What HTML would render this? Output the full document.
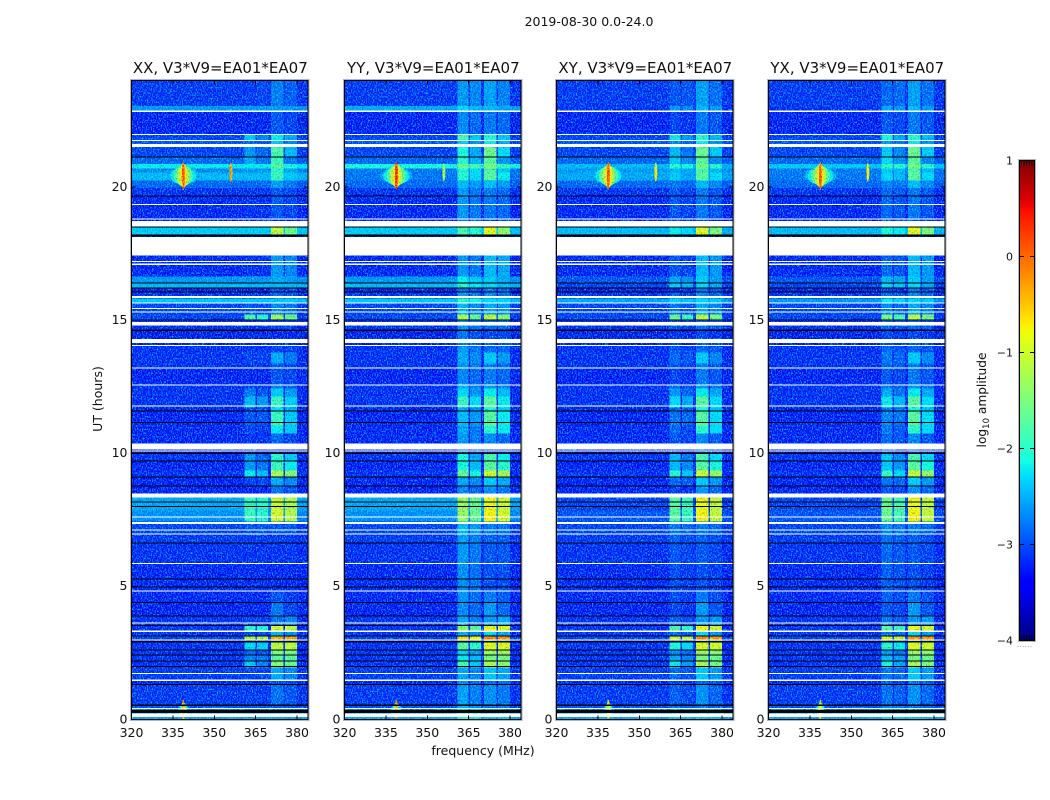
<!DOCTYPE html>
<html><head><meta charset="utf-8"><title>2019-08-30 spectrogram</title>
<style>
html,body{margin:0;padding:0;background:#fff}
svg{display:block}
text{font-family:"DejaVu Sans","Liberation Sans",sans-serif;fill:#111}
</style></head>
<body>
<svg id="chart" xmlns="http://www.w3.org/2000/svg" width="1050" height="800" viewBox="0 0 1050 800">
<defs>
<filter id="noiseA" filterUnits="userSpaceOnUse" x="0" y="0" width="1050" height="800" color-interpolation-filters="sRGB">
<feTurbulence type="fractalNoise" baseFrequency="0.8 0.55" numOctaves="2" seed="3"/>
<feColorMatrix type="matrix" values="0 0 0 0 0  2.2 0 0 0 -0.95  0.3 0 0 0 -0.1  0 0 0 0 1"/>
</filter>
<filter id="noiseB" filterUnits="userSpaceOnUse" x="0" y="0" width="1050" height="800" color-interpolation-filters="sRGB">
<feTurbulence type="fractalNoise" baseFrequency="0.8 0.55" numOctaves="2" seed="11"/>
<feColorMatrix type="matrix" values="0 0 0 0 0  0 0 0 0 0  0 0 0 0 0.35  5 0 0 0 -2.7"/>
</filter>
<linearGradient id="jetGrad" x1="0" y1="1" x2="0" y2="0"></linearGradient>
</defs>
<text x="589" y="26" text-anchor="middle" font-size="12.5">2019-08-30 0.0-24.0</text>
<text x="483" y="755" text-anchor="middle" font-size="12.5">frequency (MHz)</text>
<text transform="translate(102,399) rotate(-90)" text-anchor="middle" font-size="12.5">UT (hours)</text>
<text transform="translate(986,400) rotate(-90)" text-anchor="middle" font-size="12.2">log<tspan font-size="8.5" dy="3">10</tspan><tspan dy="-3"> amplitude</tspan></text>
<g id="panels"></g>
<g id="cbar"></g>
</svg>
<script>
// Categories
const panelNames = ['XX','YY','XY','YX'];
const panelTitles = ['XX, V3*V9=EA01*EA07','YY, V3*V9=EA01*EA07','XY, V3*V9=EA01*EA07','YX, V3*V9=EA01*EA07'];
const xTicks = [320,335,350,365,380];
const yTicks = [0,5,10,15,20];
const cbarTicks = [1,0,-1,-2,-3,-4];
// Frequency bands (MHz): bg, band1, bg, band2, bg, band3, bg, band4, bg
const bandStartsMHz = [320,361,365,365.5,369.5,370.5,375,375.6,380];
const bandEndsMHz   = [361,365,365.5,369.5,370.5,375,375.6,380,384];
// Time rows: edges in UT hours (top to bottom)
const utEdges = [24,23.05,22.86,22,21.77,21.51,21.14,20.87,20.69,20.54,20.24,19.97,19.64,18.77,18.47,18.21,17.42,16.63,16.37,16.22,16.07,15.81,15.66,15.21,15.02,14.61,14.31,14.01,13.78,13.37,13.22,12.58,12.43,12.13,11.72,11.57,11.04,10.74,10.37,9.99,9.69,9.35,9.13,8.79,8.34,7.85,7.44,6.95,6.62,5.86,5.3,4.85,4.4,3.91,3.54,3.35,3.13,2.98,2.9,2.6,2.41,2.19,1.96,1.44,1.29,0.54,0.42,0.24,0];
// Background log10 amplitude per row, per panel
const bgXX = [-3.25,-2.7,-3.45,-3.2,-3.1,-3.2,-3,-2.2,-2.8,-2.5,-3,-3.3,-3.35,-3.4,-2.4,-3.4,-3.35,-2.7,-2.5,-3.5,-3.3,-2.4,-3.2,-3.2,-3.3,-3.5,-3.45,-3.3,-3.3,-3.3,-3.4,-3.3,-3.3,-3.3,-3.5,-3.45,-3.35,-3.35,-3.5,-3.3,-3.4,-3.3,-3.45,-3.4,-2.6,-2.75,-3.2,-3.25,-3.3,-3.35,-3.35,-3.35,-3.4,-3.3,-3.3,-3.3,-3.2,-3.4,-3.3,-3.3,-3.3,-3.3,-3.25,-3.4,-3.25,-3.1,-2.9,-2.6];
const bgYY = [-3.25,-2.6,-3.45,-3.2,-3.1,-3.2,-3,-2.1,-2.9,-2.9,-3,-3.3,-3.35,-3.4,-2.4,-3.4,-3.35,-2.7,-2.5,-3.5,-3.3,-2.4,-3.2,-3.2,-3.3,-3.5,-3.45,-3.3,-3.3,-3.3,-3.4,-3.3,-3.3,-3.3,-3.5,-3.45,-3.35,-3.35,-3.5,-3.3,-3.4,-3.3,-3.45,-3.4,-2.6,-2.75,-3.2,-3.25,-3.3,-3.35,-3.35,-3.35,-3.4,-3.3,-3.3,-3.3,-3.2,-3.4,-3.3,-3.3,-3.3,-3.3,-3.25,-3.4,-3.25,-3.1,-2.9,-2.6];
const bgXY = [-3.25,-3.3,-3.45,-3.2,-3.1,-3.2,-3,-2.5,-2.7,-2.6,-3,-3.3,-3.35,-3.4,-2.5,-3.4,-3.35,-3.1,-3.2,-3.5,-3.3,-2.6,-3.2,-3.2,-3.3,-3.5,-3.45,-3.3,-3.3,-3.3,-3.4,-3.3,-3.3,-3.3,-3.5,-3.45,-3.35,-3.35,-3.5,-3.3,-3.4,-3.3,-3.45,-3.4,-3.2,-3.1,-3.2,-3.25,-3.3,-3.35,-3.35,-3.35,-3.4,-3.3,-3.3,-3.3,-3.2,-3.4,-3.3,-3.3,-3.3,-3.3,-3.25,-3.4,-3.25,-3.1,-2.9,-2.6];
const bgYX = [-3.25,-3.3,-3.45,-3.2,-3.1,-3.2,-3,-2.4,-2.9,-2.9,-3,-3.3,-3.35,-3.4,-2.5,-3.4,-3.35,-3.1,-3.2,-3.5,-3.3,-2.7,-3.2,-3.2,-3.3,-3.5,-3.45,-3.3,-3.3,-3.3,-3.4,-3.3,-3.3,-3.3,-3.5,-3.45,-3.35,-3.35,-3.5,-3.3,-3.4,-3.3,-3.45,-3.4,-3.2,-3.1,-3.2,-3.25,-3.3,-3.35,-3.35,-3.35,-3.4,-3.3,-3.3,-3.3,-3.2,-3.4,-3.3,-3.3,-3.3,-3.3,-3.25,-3.4,-3.25,-3.1,-2.9,-2.6];
// Band levels per row (XX reference)
const band1 = [-3.3,-2.9,-3.4,-2.4,-3,-2.7,-2.6,-2.2,-2.7,-2.6,-3.1,-3.3,-3.3,-3.4,-2.4,-3.4,-3.3,-2.8,-2.6,-3.5,-3.3,-2.5,-3.1,-1.8,-3.3,-3.5,-3.45,-3.3,-3.2,-3.3,-3.4,-3.2,-2.9,-2.5,-3.2,-3.1,-3.2,-3.3,-3.5,-2.7,-2.7,-2.2,-3.2,-3.4,-1.9,-1.9,-3.1,-3.25,-3.3,-3.35,-3.35,-3.35,-3.4,-3.2,-2,-3.2,-1.2,-3.2,-2.3,-3,-2.8,-2.4,-3.2,-3.4,-3.25,-3.1,-2.9,-2.6];
const band2 = [-3.2,-2.9,-3.4,-2.8,-3.1,-3,-2.9,-2.2,-2.7,-2.7,-3.1,-3.3,-3.3,-3.4,-2.4,-3.4,-3.3,-2.8,-2.6,-3.5,-3.3,-2.5,-3.2,-2,-3.3,-3.5,-3.45,-3.3,-3.2,-3.3,-3.4,-3.25,-3.1,-2.7,-3.2,-3.1,-3.3,-3.3,-3.5,-3,-2.9,-2.5,-3.2,-3.4,-2,-2,-3.1,-3.25,-3.3,-3.35,-3.35,-3.35,-3.4,-3.25,-2.1,-3.2,-1.2,-3.2,-2.4,-3.1,-2.9,-2.8,-3.2,-3.4,-3.25,-3.1,-2.9,-2.6];
const band3 = [-2.85,-2.7,-3.1,-2.2,-2.4,-1.8,-1.9,-1.7,-2,-1.9,-2.7,-3.1,-3.1,-3.4,-1.1,-3.4,-2.7,-2.6,-2.5,-3.1,-3,-2.5,-2.8,-1.3,-3.2,-3.4,-3.3,-3.2,-2.6,-3.1,-3.1,-2.9,-2.4,-1.9,-2.3,-1.9,-2.2,-3,-3.3,-2,-1.9,-1.2,-2.6,-2.95,-1,-0.95,-3.1,-3.25,-3.3,-3.35,-3.35,-3.1,-2.9,-2.9,-1,-2.5,-0.3,-2.3,-1.1,-1.5,-1.7,-1.4,-2.6,-3.2,-2.95,-3.1,-2.9,-2.6];
const band4 = [-3.05,-2.8,-3.2,-2.6,-2.8,-2.5,-2.9,-2.1,-2.6,-2.4,-2.9,-3.2,-3.2,-3.4,-1.6,-3.4,-2.8,-2.8,-2.7,-3.2,-3.1,-2.5,-2.9,-1.6,-3.2,-3.4,-3.3,-3.2,-2.9,-3.2,-3.2,-3.05,-2.7,-2.4,-2.6,-2.4,-2.4,-3.2,-3.3,-2.4,-2.2,-1.4,-2.8,-3.1,-1.2,-1.15,-3.1,-3.25,-3.3,-3.35,-3.35,-3.25,-3.2,-2.8,-1.1,-2.8,-0.3,-2.5,-1.1,-1.5,-1.7,-1.6,-2.8,-3.2,-3.1,-3.1,-2.9,-2.6];
// Per-panel band offsets relative to XX
const offsetBand1 = [0,0.6,0.2,0.3];
const offsetBand2 = [0,0.4,0.1,0.2];
const offsetBand3 = [0,0.2,0.2,0.2];
const offsetBand4 = [0,0.2,0.1,0.1];
// White (no data) gaps, UT hours
const gapStarts = [22.88,22,21.77,21.62,19.37,18.81,18.72,18.12,17.23,17.12,15.9,15.67,15.46,15.33,14.93,14.63,14.3,14.06,13.23,12.58,11.79,10.36,10.1,8.48,7.63,7.41,7.14,6.99,5.88,4.85,3.64,3.35,3.01,1.74,1.5,0.44,0.22];
const gapEnds   = [22.81,21.96,21.73,21.51,19.33,18.77,18.51,17.42,17.18,17.08,15.83,15.63,15.42,15.28,14.79,14.6,14.15,14.02,13.19,12.54,11.75,10.14,10.07,8.33,7.58,7.34,7.1,6.95,5.84,4.81,3.6,3.29,2.98,1.71,1.44,0.4,0.09];
// Flagged (black) rows, UT hours
const flagStarts = [21.14,19.68,18.51,18.21,16.41,16.23,16.07,15.03,14.64,11.61,11.18,10.02,9.73,9.13,8.79,8.19,8.02,6.65,5.3,5,4.42,3.91,3.55,3.16,2.94,2.63,2.44,2.22,2.01,1.34,0.56,0.35];
const flagEnds   = [21.1,19.64,18.47,18.14,16.37,16.19,16.03,14.99,14.6,11.57,11.14,9.98,9.69,9.09,8.75,8.15,7.98,6.61,5.26,4.95,4.38,3.87,3.51,3.12,2.9,2.59,2.4,2.18,1.97,1.3,0.5,0.25];
// Bright sources: frequency (MHz), centre UT, half-span (h), width (MHz), peak per panel
const sourceFreq = [338.8,356,338.8];
const sourceUT   = [20.42,20.55,0.35];
const sourceSpan = [0.55,0.38,0.42];
const sourceWidth= [6.5,0.7,2.2];
const sourcePeakXX = [0.35,-0.2,0.1];
const sourcePeakYY = [0.45,-0.8,0.1];
const sourcePeakXY = [0.35,-0.3,-0.4];
const sourcePeakYX = [0.35,-0.3,-0.3];
const sourceLevels = [-2.6,-2.2,-1.7,-1.2,-0.7,-0.2,0.2,0.45];

const NS='http://www.w3.org/2000/svg';
const panelLeft=[131.5,344.5,556.5,768.5], panelW=176.6, top_=80.5, bot_=719.5;
const xs=(f,p)=>panelLeft[p]+(f-320)*panelW/64;
const ys=u=>719.5-u*(639/24);
const cbarY=v=>160+(1-v)*96;
function jet(t){
 t=Math.max(0,Math.min(1,t));
 const pl=(pts)=>{for(let i=1;i<pts.length;i++){if(t<=pts[i][0]){const a=pts[i-1],b=pts[i];return a[1]+(b[1]-a[1])*(t-a[0])/(b[0]-a[0]);}}return pts[pts.length-1][1];};
 const r=pl([[0,0],[.35,0],[.66,1],[.89,1],[1,.5]]),g=pl([[0,0],[.125,0],[.375,1],[.64,1],[.91,0],[1,0]]),b=pl([[0,.5],[.11,1],[.34,1],[.65,0],[1,0]]);
 return 'rgb('+Math.round(r*255)+','+Math.round(g*255)+','+Math.round(b*255)+')';
}
const col=v=>jet((v+4)/5);
function mk(tag,attrs,parent,txt){const e=document.createElementNS(NS,tag);for(const k in attrs)e.setAttribute(k,attrs[k]);if(txt!==undefined)e.textContent=txt;parent.appendChild(e);return e;}

const bgByPanel=[bgXX,bgYY,bgXY,bgYX];
const peaksByPanel=[sourcePeakXX,sourcePeakYY,sourcePeakXY,sourcePeakYX];
const root=document.getElementById('panels');
panelNames.forEach((nm,p)=>{
 const g=mk('g',{},root);
 
 
 const cp=mk('clipPath',{id:'clip'+p},g);
 mk('rect',{x:panelLeft[p],y:top_,width:panelW,height:bot_-top_},cp);
 const hm=mk('g',{'clip-path':'url(#clip'+p+')',style:'isolation:isolate'},g);
 
 
 for(let r=0;r<utEdges.length-1;r++){
  const y0=ys(utEdges[r]),y1=ys(utEdges[r+1]);
  const bg=bgByPanel[p][r];
  const lv=[bg,band1[r]+offsetBand1[p],bg,band2[r]+offsetBand2[p],bg,band3[r]+offsetBand3[p],bg,band4[r]+offsetBand4[p],bg-0.05];
  bandStartsMHz.forEach((f0,b)=>{
   const v=(b%2===1)?Math.max(lv[b],bg):lv[b];
   const x0=xs(f0,p),x1=xs(bandEndsMHz[b],p);
   const c=mk('rect',{x:x0.toFixed(2),y:y0.toFixed(2),width:(x1-x0+0.3).toFixed(2),height:(y1-y0+0.3).toFixed(2),fill:col(v),'shape-rendering':'crispEdges'},hm);
   
   
  });
 }
 sourceFreq.forEach((f,s)=>{
  const peak=peaksByPanel[p][s];
  sourceLevels.forEach(L=>{
   if(L>peak)return;
   const k=(peak-L)/(peak+2.8);
   const e=mk('ellipse',{cx:xs(f,p).toFixed(2),cy:ys(sourceUT[s]).toFixed(2),rx:(Math.max(0.5,sourceWidth[s]*Math.pow(k,1.5))*panelW/64).toFixed(2),ry:(sourceSpan[s]*(1-0.5*k)*(639/24)).toFixed(2),fill:col(L)},hm);
   
   
  });
 });
 const n1=mk('rect',{x:panelLeft[p],y:top_,width:panelW,height:bot_-top_,filter:'url(#noiseA)',style:'mix-blend-mode:screen'},hm);
 
 
 const n2=mk('rect',{x:panelLeft[p],y:top_,width:panelW,height:bot_-top_,filter:'url(#noiseB)',opacity:'0.3'},hm);
 
 
 gapStarts.forEach((u,i)=>{
  const gp=mk('rect',{x:panelLeft[p],y:ys(u).toFixed(2),width:panelW,height:Math.max(1,ys(gapEnds[i])-ys(u)).toFixed(2),fill:'#fff','shape-rendering':'crispEdges'},hm);
  
  
 });
 flagStarts.forEach((u,i)=>{
  const fl=mk('rect',{x:panelLeft[p],y:ys(u).toFixed(2),width:panelW,height:Math.max(1,ys(flagEnds[i])-ys(u)).toFixed(2),fill:'#000','shape-rendering':'crispEdges'},hm);
  
  
 });
 const oframe=mk('rect',{x:panelLeft[p]-1,y:top_-1,width:panelW+2,height:bot_-top_+2,fill:'none',stroke:'#b5b5b5','stroke-width':1,'shape-rendering':'crispEdges'},g);
 
 
 const frame=mk('rect',{x:panelLeft[p],y:top_,width:panelW,height:bot_-top_,fill:'none',stroke:'#000','stroke-width':1,'shape-rendering':'crispEdges'},g);
 
 
 const t=mk('text',{x:(panelLeft[p]+panelW/2+0.5).toFixed(1),y:73,'text-anchor':'middle','font-size':'15'},g,panelTitles[p]);
 
 
 xTicks.forEach(f=>{
  const x=xs(f,p);
  const tb=mk('line',{x1:x,x2:x,y1:bot_,y2:bot_-4,stroke:'#000','shape-rendering':'crispEdges'},g);
  
  
  const tt=mk('line',{x1:x,x2:x,y1:top_,y2:top_+4,stroke:'#000','shape-rendering':'crispEdges'},g);
  
  
  const lb=mk('text',{x:x,y:737,'text-anchor':'middle','font-size':'12.5'},g,String(f));
  
  
 });
 yTicks.forEach(u=>{
  const y=ys(u);
  const tl=mk('line',{x1:panelLeft[p],x2:panelLeft[p]+4,y1:y,y2:y,stroke:'#000','shape-rendering':'crispEdges'},g);
  
  
  const tr=mk('line',{x1:panelLeft[p]+panelW,x2:panelLeft[p]+panelW-4,y1:y,y2:y,stroke:'#000','shape-rendering':'crispEdges'},g);
  
  
  const lb=mk('text',{x:panelLeft[p]-4,y:y+3.8,'text-anchor':'end','font-size':'12.5'},g,String(u));
  
  
 });
});

// Colourbar
const grad=document.getElementById('jetGrad');
for(let i=0;i<=64;i++){mk('stop',{offset:(i/64),'stop-color':jet(i/64)},grad);}
const cb=document.getElementById('cbar');
const cbRect=mk('rect',{x:1019.5,y:160.5,width:15,height:480,fill:'url(#jetGrad)'},cb);


const cbOut=mk('rect',{x:1018.5,y:159.5,width:17,height:482,fill:'none',stroke:'#b5b5b5','shape-rendering':'crispEdges'},cb);


const cbFr=mk('rect',{x:1019.5,y:160.5,width:15,height:480,fill:'none',stroke:'#000','shape-rendering':'crispEdges'},cb);


cbarTicks.forEach(v=>{
 const y=cbarY(v)+0.5;
 if(v<1&&v>-4){
  const a=mk('line',{x1:1019.5,x2:1024,y1:y,y2:y,stroke:'#000','shape-rendering':'crispEdges'},cb);
  
  
  const b=mk('line',{x1:1030,x2:1034.5,y1:y,y2:y,stroke:'#000','shape-rendering':'crispEdges'},cb);
  
  
 }
 const lb=mk('text',{x:1013,y:y+4,'text-anchor':'end','font-size':'11'},cb,String(v).replace('-','\u2212'));
 
 
});
for(let i=0;i<6;i++){
 const x=1021.5+i*2.6;
 const a=mk('line',{x1:x,x2:x,y1:160.5,y2:166,stroke:'#000','stroke-width':0.8},cb);
 
 
 const b=mk('line',{x1:x,x2:x,y1:640.5,y2:635,stroke:'#000','stroke-width':0.8},cb);
 
 
 const d=mk('rect',{x:x-4,y:646,width:1,height:1,fill:'#aaa'},cb);
 
 
}
</script>
</body></html>
